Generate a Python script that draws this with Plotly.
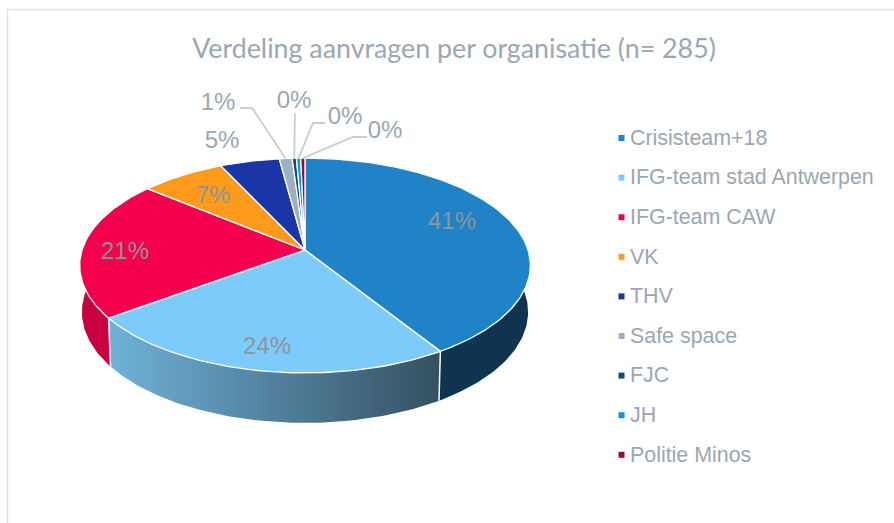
import math
import plotly.graph_objects as go

# ---- data ----
categories = ["Crisisteam+18", "IFG-team stad Antwerpen", "IFG-team CAW", "VK", "THV",
              "Safe space", "FJC", "JH", "Politie Minos"]
counts = [117, 68, 60, 20, 14, 3, 1, 1, 1]
title = "Verdeling aanvragen per organisatie (n= 285)"

# ---- styles ----
top_colors = ["#2083C7", "#7CCBFA", "#F5004F", "#FF9A1A", "#1A35A5", "#9DB0C1", "#0F4C75", "#0A96E0", "#9B0A3A"]
side_colors = ["#0E3450", "#5F90AE", "#C90042", "#B06A10", "#10226E", "#6D7C8A", "#0A3350", "#08689C", "#6C0728"]
GRAD = [[0, "#70B2D9"], [1, "#355062"]]
TEXT = "#9AA7B4"
INNER = "#8E959C"
LEADER = "#C9CED3"
FRAME = "#DEE3E9"

# ---- layout: perspective projection of the disc ----
APEX_X, APEX_Y, PX, PY, PC = 305.0, 250.0, 223.0, 69.2, -0.144
DEPTH, DEPTH_V, SHRINK = 46.0, 4.0, 0.99
LABEL_POS = [(452, 223), (267, 348), (125, 253), (213, 197), (222, 142),
             (218, 104), (294, 102), (345, 118), (385, 132)]
ELBOWS = {5: [(240, 108), (252, 108)], 6: [(295, 113)], 7: [(325, 123), (313, 123)], 8: [(367, 137), (353, 137)]}
LEG_MARK_X, LEG_TEXT_X, LEG_Y0, LEG_DY = 621.5, 630, 139.5, 39.6


def top(a):
    u, v = math.sin(a), -math.cos(a)
    d = 1 + PC * v
    return APEX_X + PX * u / d, (APEX_Y + PY * v) / d


def bottom(a):
    x, y = top(a)
    return APEX_X + (x - APEX_X) * SHRINK, y + DEPTH + DEPTH_V * (-math.cos(a))


total = sum(counts)
edges = [0.0]
for c in counts:
    edges.append(edges[-1] + c / total * 2 * math.pi)


def angles(a, b):
    n = max(2, int((b - a) / math.radians(1)) + 1)
    return [a + (b - a) * i / n for i in range(n + 1)]


fig = go.Figure()
# sides: the slices reaching the near half of the disc (the top faces cover the rest)
for i in range(len(counts)):
    a, b = edges[i], edges[i + 1]
    pts = [p for p in angles(a, b) if -math.cos(p) > -0.35]
    if len(pts) < 2:
        continue
    t = [top(p) for p in pts]
    s = [bottom(p) for p in reversed(pts)]
    poly = t + s + [t[0]]
    kw = dict(fillgradient=dict(type="horizontal", colorscale=GRAD)) if i == 1 else dict(fillcolor=side_colors[i])
    fig.add_trace(go.Scatter(x=[p[0] for p in poly], y=[p[1] for p in poly], mode="lines", fill="toself",
                             line=dict(color="white", width=0), hoverinfo="skip", **kw))
# white seams between the visible sides
for e in edges:
    if -math.cos(e) > 0:
        p, q = top(e), bottom(e)
        fig.add_trace(go.Scatter(x=[p[0], q[0]], y=[p[1], q[1]], mode="lines",
                                 line=dict(color="white", width=1.5), hoverinfo="skip"))
# top faces
for i in range(len(counts)):
    pts = angles(edges[i], edges[i + 1])
    t = [top(p) for p in pts]
    poly = [(APEX_X, APEX_Y)] + t + [(APEX_X, APEX_Y)]
    fig.add_trace(go.Scatter(x=[p[0] for p in poly], y=[p[1] for p in poly], mode="lines", fill="toself",
                             fillcolor=top_colors[i], line=dict(color="white", width=1.3),
                             name=categories[i], hovertemplate="%{fullData.name}<extra></extra>"))
# leader lines
for i, elbow in ELBOWS.items():
    rim = top((edges[i] + edges[i + 1]) / 2)
    pts = elbow + [rim]
    fig.add_trace(go.Scatter(x=[p[0] for p in pts], y=[p[1] for p in pts], mode="lines",
                             line=dict(color=LEADER, width=1.8), hoverinfo="skip"))
# percentage labels
labels = [f"{round(c / total * 100)}%" for c in counts]
colors = [INNER if i < 4 else TEXT for i in range(len(counts))]
fig.add_trace(go.Scatter(x=[p[0] for p in LABEL_POS], y=[p[1] for p in LABEL_POS], mode="text", text=labels,
                         textposition="middle center",
                         textfont=dict(family="Liberation Sans", size=24, color=colors), hoverinfo="skip"))
# legend
ys = [LEG_Y0 + LEG_DY * i for i in range(len(categories))]
fig.add_trace(go.Scatter(x=[LEG_MARK_X] * len(ys), y=[y - 1.5 for y in ys], mode="markers",
                         marker=dict(symbol="square", size=6, color=top_colors, line=dict(width=0)), hoverinfo="skip"))
fig.add_trace(go.Scatter(x=[LEG_TEXT_X] * len(ys), y=ys, mode="text", text=categories, textposition="middle right",
                         textfont=dict(family="Liberation Sans", size=21.4, color=TEXT), hoverinfo="skip"))

fig.update_layout(
    width=894, height=523, margin=dict(l=0, r=0, t=0, b=0), showlegend=False,
    paper_bgcolor="white", plot_bgcolor="white",
    xaxis=dict(range=[0, 894], visible=False, fixedrange=True),
    yaxis=dict(range=[523, 0], visible=False, fixedrange=True),
    title=dict(text=title, x=454 / 894, xanchor="center", y=1 - 48.5 / 523, yanchor="middle",
               font=dict(family="Lato", size=26.8, color=TEXT)),
    shapes=[
        dict(type="line", xref="paper", yref="paper", x0=7.5 / 894, x1=7.5 / 894, y0=0, y1=1 - 9.5 / 523,
             line=dict(color=FRAME, width=1.5)),
        dict(type="line", xref="paper", yref="paper", x0=7 / 894, x1=1, y0=1 - 9.5 / 523, y1=1 - 9.5 / 523,
             line=dict(color=FRAME, width=1.5)),
    ],
)
fig.write_html("out.html", config=dict(displayModeBar=False),
               post_script="document.body.style.margin='0';document.documentElement.style.overflow='hidden';")
